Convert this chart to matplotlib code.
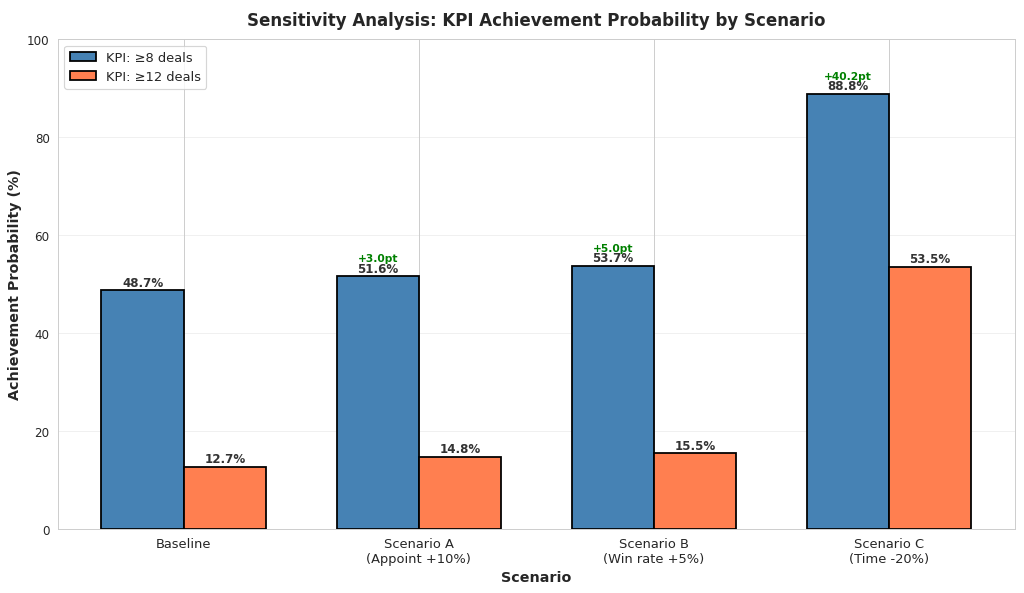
import matplotlib
matplotlib.use("Agg")
import matplotlib.pyplot as plt
import seaborn as sns
import numpy as np

scenarios = ["Baseline", "Scenario A\n(Appoint +10%)", "Scenario B\n(Win rate +5%)", "Scenario C\n(Time -20%)"]
prob_8 = [48.7, 51.6, 53.7, 88.8]
prob_12 = [12.7, 14.8, 15.5, 53.5]
delta_8 = [None, 3.0, 5.0, 40.2]

sns.set_style("whitegrid")
plt.rcParams["font.family"] = ["DejaVu Sans"]

fig, ax = plt.subplots(figsize=(12, 6.96), dpi=1024 / 12)

x = np.arange(len(scenarios))
w = 0.35
bars1 = ax.bar(x - w / 2, prob_8, w, label="KPI: ≥8 deals", color="steelblue",
               edgecolor="black", linewidth=1.5)
bars2 = ax.bar(x + w / 2, prob_12, w, label="KPI: ≥12 deals", color="coral",
               edgecolor="black", linewidth=1.5)

for b in list(bars1) + list(bars2):
    h = b.get_height()
    ax.text(b.get_x() + b.get_width() / 2, h + 0.3, f"{h:.1f}%",
            ha="center", va="bottom", fontsize=10, fontweight="bold", color="#333333")

# gain vs baseline, only for the >=8 deals series
for b, d in zip(bars1, delta_8):
    if d is None:
        continue
    ax.text(b.get_x() + b.get_width() / 2, b.get_height() + 2.6, f"+{d:.1f}pt",
            ha="center", va="bottom", fontsize=9, fontweight="bold", color="green")

ax.set_xticks(x)
ax.set_xticklabels(scenarios, fontsize=11)
ax.tick_params(axis="y", labelsize=10)
ax.set_ylim(0, 100)
ax.set_xlabel("Scenario", fontsize=12, fontweight="bold")
ax.set_ylabel("Achievement Probability (%)", fontsize=12, fontweight="bold")
ax.set_title("Sensitivity Analysis: KPI Achievement Probability by Scenario",
             fontsize=14, fontweight="bold", pad=12)
ax.legend(fontsize=11, loc="upper left")
ax.grid(axis="y", alpha=0.3)

fig.subplots_adjust(left=0.0566, right=0.991, top=0.9327, bottom=0.1077)
plt.savefig("out.png", dpi=1024 / 12)
